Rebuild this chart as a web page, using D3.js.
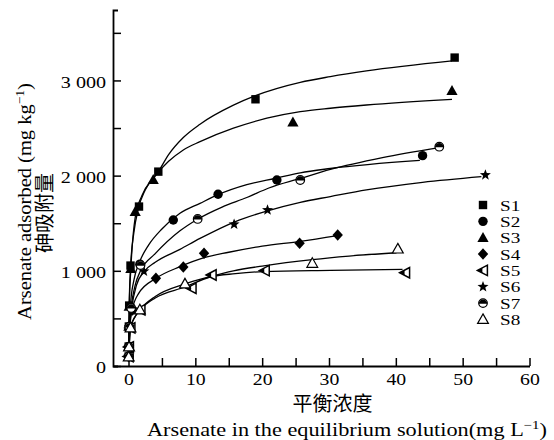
<!DOCTYPE html>
<html><head><meta charset="utf-8">
<script src="https://cdn.jsdelivr.net/npm/d3@7"></script>
<style>
html,body{margin:0;padding:0;background:#fff;}
svg{display:block;}
</style></head>
<body>
<svg id="chart" width="554" height="440"></svg>
<script>
// ---------------- data ----------------
const seriesNames = ["S1","S2","S3","S4","S5","S6","S7","S8"];
// observed points (equilibrium conc mg/L, adsorbed mg/kg)
const s1X = [0.02, 0.03, 0.05, 0.1, 0.3, 1.57, 4.46, 19.0, 48.8];
const s1Y = [100, 205, 415, 635, 1055, 1675, 2042, 2802, 3240];
const s2X = [0.03, 0.05, 0.1, 0.3, 1.7, 6.7, 13.4, 22.2, 44.0];
const s2Y = [100, 205, 415, 620, 1070, 1534, 1804, 1954, 2210];
const s3X = [0.02, 0.03, 0.05, 0.1, 0.35, 1.0, 3.7, 24.6, 48.4];
const s3Y = [100, 205, 415, 625, 1020, 1620, 1955, 2561, 2890];
const s4X = [0.03, 0.06, 0.2, 0.6, 4.1, 8.2, 11.3, 25.6, 31.3];
const s4Y = [100, 200, 410, 590, 921, 1040, 1184, 1289, 1377];
const s5X = [0.03, 0.08, 0.3, 1.8, 9.45, 12.45, 20.4, 41.4];
const s5Y = [100, 200, 400, 590, 816, 956, 1002, 980];
const s6X = [0.03, 0.05, 0.15, 0.5, 2.3, 15.8, 20.8, 53.4];
const s6Y = [100, 200, 410, 600, 995, 1489, 1639, 2007];
const s7X = [0.03, 0.05, 0.12, 0.4, 1.8, 10.35, 25.7, 46.5];
const s7Y = [100, 200, 410, 610, 1060, 1545, 1954, 2304];
const s8X = [0.03, 0.08, 0.3, 1.7, 8.45, 27.5, 40.3];
const s8Y = [95, 200, 400, 590, 862, 1079, 1229];

// fitted isotherm curves
const s1FitX = [0.02, 0.1, 0.3, 0.8, 1.5, 2.5, 4.5, 6, 8.2, 10.7, 15.7, 19, 25.7, 30.2, 35.6, 48.4];
const s1FitY = [100, 620, 1030, 1400, 1660, 1850, 2045, 2220, 2400, 2540, 2740, 2840, 2980, 3040, 3100, 3205];
const s2FitX = [0.03, 0.1, 0.3, 0.8, 1.7, 3, 5, 7.7, 10.7, 13.4, 17.7, 22.2, 25.7, 30.2, 43.6];
const s2FitY = [100, 420, 650, 900, 1100, 1270, 1440, 1604, 1709, 1800, 1905, 1975, 2030, 2075, 2160];
const s3FitX = [0.02, 0.1, 0.35, 1.0, 2, 3.7, 6, 8.2, 10.7, 15.7, 20.7, 25.7, 30.2, 35.6, 48.4];
const s3FitY = [100, 600, 1020, 1560, 1790, 1972, 2150, 2270, 2357, 2498, 2603, 2672, 2708, 2742, 2802];
const s4FitX = [0.03, 0.2, 0.6, 1.5, 4.1, 7.7, 11.2, 15, 20, 25.7, 31.3];
const s4FitY = [100, 410, 600, 760, 921, 1043, 1135, 1195, 1260, 1310, 1370];
const s5FitX = [0.03, 0.3, 1, 1.8, 4, 8.45, 12.2, 16, 20.2, 30.2, 41];
const s5FitY = [100, 400, 520, 595, 715, 830, 935, 970, 992, 1005, 1015];
const s6FitX = [0.03, 0.15, 0.5, 1.2, 2.3, 4, 7.7, 10.7, 15.9, 20.8, 25.7, 30.2, 35.6, 44, 52.8];
const s6FitY = [100, 410, 620, 850, 990, 1090, 1225, 1340, 1515, 1630, 1720, 1780, 1850, 1930, 1990];
const s7FitX = [0.03, 0.12, 0.4, 1, 1.8, 4, 7.7, 10.4, 14, 17.7, 21, 25.7, 30.2, 38, 46.5];
const s7FitY = [100, 410, 620, 850, 1000, 1180, 1420, 1545, 1670, 1770, 1870, 1970, 2065, 2190, 2295];
const s8FitX = [0.03, 0.3, 1, 1.7, 4, 8.45, 12, 15.7, 20, 27.5, 33, 40.1];
const s8FitY = [95, 400, 520, 590, 730, 862, 935, 1000, 1050, 1118, 1155, 1190];

const xTickValues = [0, 5, 10, 15, 20, 25, 30, 35, 40, 45, 50, 55, 60];
const xTickLabels = ["0", "", "10", "", "20", "", "30", "", "40", "", "50", "", "60"];
const yTickValues = [0, 500, 1000, 1500, 2000, 2500, 3000, 3500];
const yTickLabels = ["0", "", "1 000", "", "2 000", "", "3 000", ""];

const xTitleCN = "平衡浓度";
const xTitleEN = "Arsenate in the equilibrium solution(mg L";
const yTitleCN = "砷吸附量";
const yTitleEN = "Arsenate adsorbed (mg kg";

// ---------------- drawing ----------------
const svg = d3.select("#chart");
const SERIF = "'Liberation Serif','Times New Roman',serif";
const CJK = "'Noto Sans CJK SC',sans-serif";

const x = d3.scaleLinear().domain([-2.32, 60]).range([113, 529.5]);
const y = d3.scaleLinear().domain([0, 3740]).range([366, 10]);

const seriesX = [s1X, s2X, s3X, s4X, s5X, s6X, s7X, s8X];
const seriesY = [s1Y, s2Y, s3Y, s4Y, s5Y, s6Y, s7Y, s8Y];
const fitX = [s1FitX, s2FitX, s3FitX, s4FitX, s5FitX, s6FitX, s7FitX, s8FitX];
const fitY = [s1FitY, s2FitY, s3FitY, s4FitY, s5FitY, s6FitY, s7FitY, s8FitY];

// axes
const xAxis = d3.axisBottom(x).tickValues(xTickValues)
  .tickFormat((d, i) => xTickLabels[i]).tickSizeInner(-8).tickSizeOuter(0).tickPadding(7);
const yAxis = d3.axisLeft(y).tickValues(yTickValues)
  .tickFormat((d, i) => yTickLabels[i]).tickSizeInner(-8).tickSizeOuter(-5).tickPadding(6);

const gx = svg.append("g").attr("transform", "translate(0,366)").call(xAxis);
const gy = svg.append("g").attr("transform", "translate(113,0)").call(yAxis);
[gx, gy].forEach(g => {
  g.select(".domain").attr("stroke", "#000").attr("stroke-width", 1.8);
  g.selectAll(".tick line").attr("stroke", "#000").attr("stroke-width", 1.5);
  g.selectAll(".tick text").attr("fill", "#000").style("font-family", SERIF).style("font-size", "17.5px");
});
gx.selectAll(".tick text").attr("transform", "scale(1.13,1)");
gy.selectAll(".tick text").attr("dy", "0.38em").attr("transform", "scale(1.15,1)");

// curves
const line = d3.line().x(d => x(d[0])).y(d => y(d[1])).curve(d3.curveMonotoneX);
fitX.forEach((fx, i) => {
  const pts = fx.map((v, j) => [v, fitY[i][j]]);
  svg.append("path").attr("d", line(pts)).attr("fill", "none")
    .attr("stroke", "#000").attr("stroke-width", 1.3);
});

// markers
function drawMarker(g, k) {
  switch (k) {
    case 0: g.append("rect").attr("x", -4.2).attr("y", -4.2).attr("width", 8.4).attr("height", 8.4).attr("fill", "#000"); break;
    case 1: g.append("circle").attr("r", 4.7).attr("fill", "#000"); break;
    case 2: g.append("path").attr("d", "M0,-5.8L5.6,4.2L-5.6,4.2Z").attr("fill", "#000"); break;
    case 3: g.append("path").attr("d", "M0,-5.8L5.2,0L0,5.8L-5.2,0Z").attr("fill", "#000"); break;
    case 4:
      g.append("path").attr("d", "M-5.6,0L4.4,-5.2L4.4,5.2Z").attr("fill", "#fff").attr("stroke", "#000").attr("stroke-width", 1.5);
      g.append("path").attr("d", "M-5.6,0L-0.6,-2.6L-0.6,2.6Z").attr("fill", "#000");
      break;
    case 5: {
      const pts = [];
      for (let j = 0; j < 10; j++) {
        const r = j % 2 === 0 ? 5.8 : 2.4;
        const a = -Math.PI / 2 + j * Math.PI / 5;
        pts.push([r * Math.cos(a), r * Math.sin(a)]);
      }
      g.append("path").attr("d", "M" + pts.map(p => p.join(",")).join("L") + "Z").attr("fill", "#000");
      break;
    }
    case 6:
      g.append("circle").attr("r", 4.3).attr("fill", "#fff").attr("stroke", "#000").attr("stroke-width", 1.2);
      g.append("path").attr("d", "M-4.3,0.6A4.3,4.3 0 0 1 4.3,0.6Z").attr("fill", "#000");
      break;
    case 7: g.append("path").attr("d", "M0,-5.6L5.4,4L-5.4,4Z").attr("fill", "#fff").attr("stroke", "#000").attr("stroke-width", 1.2); break;
  }
}
seriesX.forEach((sx, i) => {
  sx.forEach((v, j) => {
    const g = svg.append("g").attr("transform", `translate(${x(v)},${y(seriesY[i][j])})`);
    drawMarker(g, i);
  });
});

// legend
seriesNames.forEach((name, i) => {
  const cy = 205 + i * 16.35;
  const g = svg.append("g").attr("transform", `translate(483,${cy})`);
  drawMarker(g, i);
  svg.append("text").attr("x", 0).attr("y", 0)
    .attr("transform", `translate(500,${cy + 5.5}) scale(1.28,1)`)
    .style("font-family", SERIF).style("font-size", "15px").text(name);
});

// titles
function fitWidth(t, w) {
  const len = t.node().getComputedTextLength();
  t.attr("transform", `scale(${w / len},1)`);
}
// x title
svg.append("text").attr("x", 332.5).attr("y", 411).attr("text-anchor", "middle")
  .style("font-family", CJK).style("font-size", "20px").text(xTitleCN);
{
  const g = svg.append("g").attr("transform", "translate(147,435.5)");
  const t = g.append("text").style("font-family", SERIF).style("font-size", "18px");
  t.append("tspan").text(xTitleEN);
  t.append("tspan").attr("font-size", "12px").attr("dy", "-7").text("−1");
  t.append("tspan").attr("dy", "7").text(")");
  fitWidth(t, 400);
}
// y title
{
  const g = svg.append("g").attr("transform", "translate(31,201.5) rotate(-90)");
  const t = g.append("text").attr("text-anchor", "middle").style("font-family", SERIF).style("font-size", "19px");
  t.append("tspan").text(yTitleEN);
  t.append("tspan").attr("font-size", "12.5px").attr("dy", "-7").text("−1");
  t.append("tspan").attr("dy", "7").text(")");
  fitWidth(t, 237);
}
svg.append("text").attr("transform", "translate(52,213) rotate(-90)").attr("text-anchor", "middle")
  .style("font-family", CJK).style("font-size", "20px").text(yTitleCN);
</script>
</body></html>
